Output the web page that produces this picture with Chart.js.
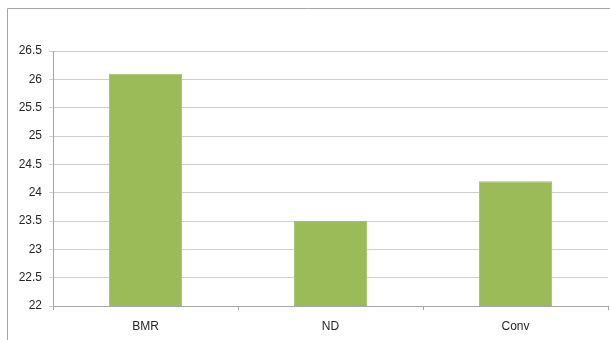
<!DOCTYPE html>
<html>
<head>
<meta charset="utf-8">
<script src="https://cdn.jsdelivr.net/npm/chart.js@4"></script>
<style>
  html, body { margin: 0; padding: 0; background: #fff; }
  #wrap { position: relative; width: 610px; height: 340px; }
</style>
</head>
<body>
<div id="wrap"><canvas id="chart" width="610" height="340"></canvas></div>
<script>
const categories = ["BMR", "ND", "Conv"];
const values = [26.1, 23.5, 24.2];
const yMin = 22;
const yMax = 26.5;
const yStep = 0.5;

// outer frame line, like the spreadsheet chart border (only top/left show)
const framePlugin = {
  id: "frame",
  beforeDraw: (chart) => {
    const ctx = chart.ctx;
    ctx.save();
    ctx.strokeStyle = "#a6a6a6";
    ctx.lineWidth = 1;
    ctx.beginPath();
    ctx.moveTo(7.5, 340);
    ctx.lineTo(7.5, 8.5);
    ctx.lineTo(610, 8.5);
    ctx.stroke();
    ctx.restore();
  },
};

const ctx = document.getElementById("chart").getContext("2d");
new Chart(ctx, {
  type: "bar",
  data: {
    labels: categories,
    datasets: [
      {
        data: values,
        backgroundColor: "#9bbb59",
        borderColor: "#a6c46c",
        borderWidth: 1,
        barPercentage: 0.395,
        categoryPercentage: 1,
      },
    ],
  },
  options: {
    responsive: false,
    animation: false,
    layout: { padding: { left: 0, top: 51, right: 2, bottom: 0 } },
    plugins: {
      legend: { display: false },
      tooltip: { enabled: false },
    },
    scales: {
      x: {
        offset: true,
        grid: {
          offset: true,
          drawOnChartArea: false,
          drawTicks: true,
          tickLength: 4,
          color: "#a6a6a6",
        },
        border: { color: "#a6a6a6" },
        ticks: {
          color: "#262626",
          font: { family: "Liberation Sans", size: 12 },
          padding: 9,
        },
        afterFit: (scale) => {
          scale.height = 34;
        },
      },
      y: {
        min: yMin,
        max: yMax,
        ticks: {
          stepSize: yStep,
          color: "#262626",
          font: { family: "Liberation Sans", size: 12 },
          padding: 7,
          callback: (value) => String(value),
        },
        grid: {
          color: "#cfcfcf",
          tickLength: 4,
        },
        border: { color: "#a6a6a6" },
        afterFit: (scale) => {
          scale.width = 53;
        },
      },
    },
  },
  plugins: [framePlugin],
});
</script>
</body>
</html>
